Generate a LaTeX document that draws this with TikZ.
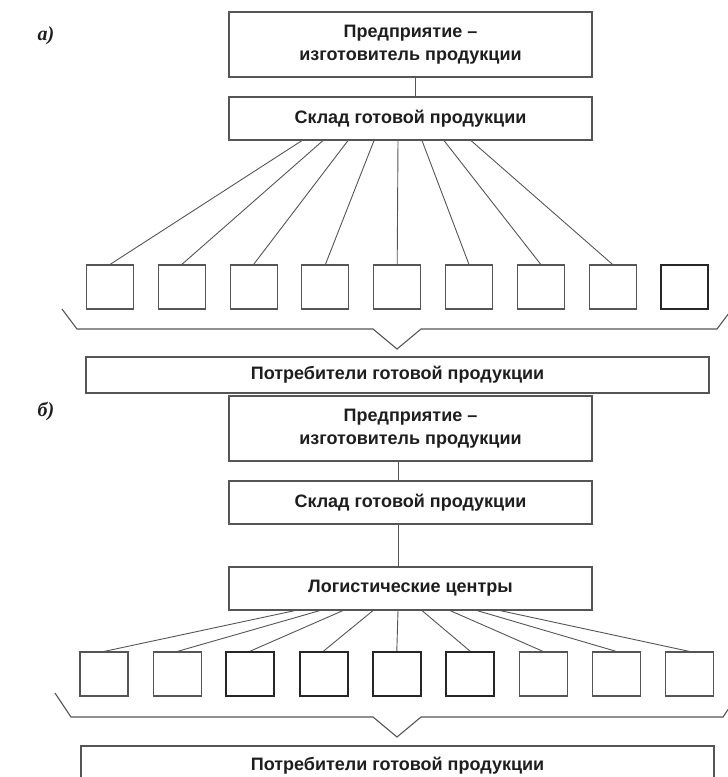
\documentclass[tikz,border=0pt]{standalone}
\usepackage{fontspec}
\setmainfont{Liberation Sans}
\newfontfamily\labfont{Liberation Serif}
\definecolor{linegray}{HTML}{555555}
\definecolor{txt}{HTML}{1E1E1E}
\begin{document}
\begin{tikzpicture}[x=1pt,y=-1pt,
  box/.style={draw=linegray, line width=1.1pt, fill=white, inner sep=0pt,
    font=\bfseries\fontsize{18}{23.5}\selectfont, align=center, text=txt},
  smallbox/.style={draw=linegray, line width=1.1pt, minimum width=47pt,
    minimum height=44pt, inner sep=0pt},
  heavybox/.style={smallbox, draw=black!85, line width=1.9pt},
  conn/.style={draw=linegray, line width=0.9pt},
  bracel/.style={draw=linegray, line width=1.1pt, line join=miter},
  lab/.style={font=\labfont\itshape\bfseries\fontsize{20}{22}\selectfont, text=txt}]
\useasboundingbox (0,0) rectangle (728,777);

% ---------- part a ----------
\node[lab] (la) at (46,36) {а)};
\node[box, minimum width=363pt, minimum height=65pt] (A1) at (410.5,44.5)
  {Предприятие --\\изготовитель продукции};
\node[box, minimum width=363pt, minimum height=43pt] (A2) at (410.5,118.5)
  {Склад готовой продукции};
\draw[conn] ([xshift=4.5pt]A1.south) -- ([xshift=4.5pt]A2.north);

\foreach \i in {1,...,8} {
  \node[smallbox] (a\i) at ({110+71.8*(\i-1)},287) {};
}
\node[heavybox] (a9) at ({110+71.8*8},287) {};

\foreach \i/\sx in {1/302,2/323,3/348,4/374,5/398,6/422,7/444,8/471} {
  \draw[conn] ([xshift={\sx-410.5}]A2.south) -- (a\i.north);
}

\draw[bracel] (62,309) -- (77,329) -- (373,329) -- (397,349) -- (421,329)
  -- (717,329) -- (732,309);

\node[box, minimum width=623pt, minimum height=36pt] (Pa) at (397.5,375)
  {Потребители готовой продукции};

% ---------- part b ----------
\node[lab] (lb) at (46,411) {б)};
\node[box, minimum width=363pt, minimum height=65pt] (B1) at (410.5,428.5)
  {Предприятие --\\изготовитель продукции};
\node[box, minimum width=363pt, minimum height=43pt] (B2) at (410.5,502.5)
  {Склад готовой продукции};
\node[box, minimum width=363pt, minimum height=43pt] (B3) at (410.5,588.5)
  {Логистические центры};
\draw[conn] ([xshift=-12.5pt]B1.south) -- ([xshift=-12.5pt]B2.north);
\draw[conn] ([xshift=-12.5pt]B2.south) -- ([xshift=-12.5pt]B3.north);

\foreach \i in {1,2,7,8,9} {
  \node[smallbox, minimum width=48pt] (b\i) at ({104+73.2*(\i-1)},674) {};
}
\foreach \i in {3,4,5,6} {
  \node[heavybox, minimum width=48pt] (b\i) at ({104+73.2*(\i-1)},674) {};
}
\foreach \i/\sx in {1/295,2/320,3/343,4/373,5/398,6/422,7/450,8/477,9/500} {
  \draw[conn] ([xshift={\sx-410.5}]B3.south) -- (b\i.north);
}

\draw[bracel] (55,693) -- (71,717) -- (373,717) -- (397,737) -- (421,717)
  -- (723,717) -- (739,693);

\node[box, minimum width=633pt, minimum height=40pt] (Pb) at (397.5,766)
  {Потребители готовой продукции};
\end{tikzpicture}
\end{document}
